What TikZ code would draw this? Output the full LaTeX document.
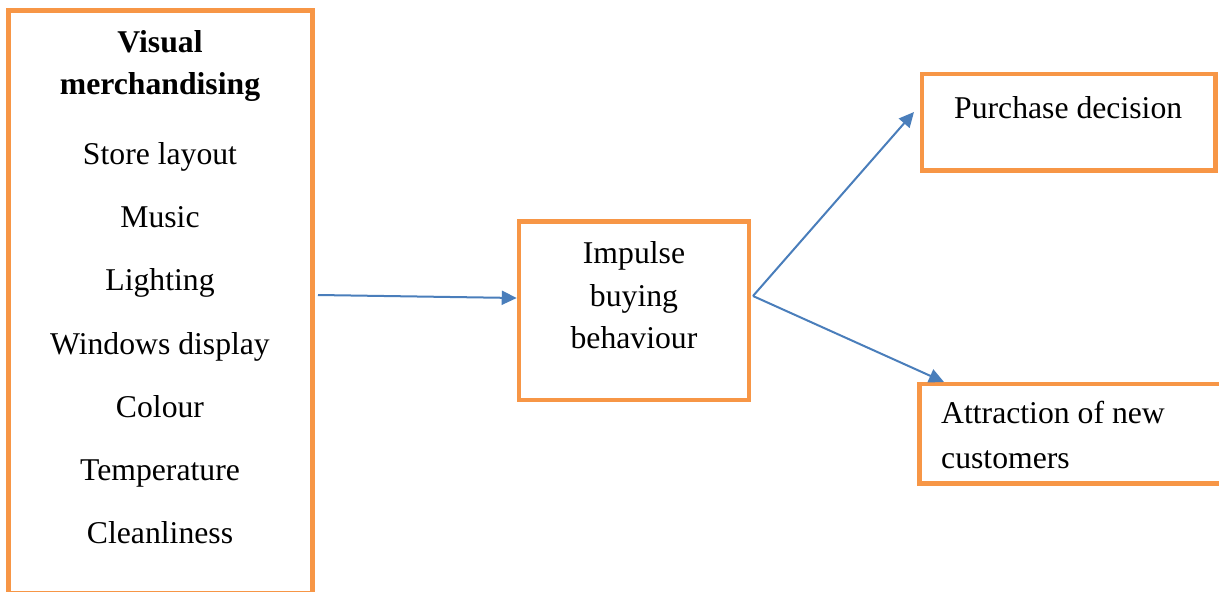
\documentclass[tikz,border=0pt]{standalone}
\usepackage{fontspec}
\setmainfont{Liberation Serif}
\usetikzlibrary{arrows.meta}
\definecolor{boxorange}{HTML}{F79646}
\definecolor{arrowblue}{HTML}{4A7EBB}
\begin{document}
\begin{tikzpicture}[x=1pt,y=-1pt,
  box/.style={draw=boxorange,line width=4.5pt,rectangle,inner sep=0pt,fill=none},
  txt/.style={anchor=base,inner sep=0pt,font=\fontsize{31.7}{42}\selectfont},
  ltxt/.style={anchor=base west,inner sep=0pt,font=\fontsize{31.7}{42}\selectfont},
  arr/.style={draw=arrowblue,line width=2pt,-{Triangle[length=15pt,width=14pt]}}]
\useasboundingbox (0,0) rectangle (1219,592);
% boxes
\node[box,minimum width=304pt,minimum height=582.5pt] (vm) at (160.5,301.75) {};
\node[box,minimum width=230pt,minimum height=178.5pt] (ib) at (634,310.75) {};
\node[box,minimum width=293.5pt,minimum height=96.5pt] (pd) at (1068.75,122.25) {};
\node[box,minimum width=303pt,minimum height=99.5pt] (an) at (1071,433.75) {};
% left box texts
\node[txt,font=\fontsize{31.7}{42}\selectfont\bfseries] (t1) at (160,52) {Visual};
\node[txt,font=\fontsize{31.7}{42}\selectfont\bfseries] (t2) at (160,94) {merchandising};
\node[txt] (t3) at (160,164) {Store layout};
\node[txt] (t4) at (160,227) {Music};
\node[txt] (t5) at (160,290) {Lighting};
\node[txt] (t6) at (160,354) {Windows display};
\node[txt] (t7) at (160,417) {Colour};
\node[txt] (t8) at (160,480) {Temperature};
\node[txt] (t9) at (160,543) {Cleanliness};
% middle box texts
\node[txt] (m1) at (634,263) {Impulse};
\node[txt] (m2) at (634,306) {buying};
\node[txt] (m3) at (634,348) {behaviour};
% right texts
\node[ltxt] (p1) at (954,118) {Purchase decision};
\node[ltxt] (a1) at (941,423) {Attraction of new};
\node[ltxt] (a2) at (941,468) {customers};
% connectors
\coordinate (start) at (318,295);
\coordinate (fork) at (753,296);
\coordinate (pdin) at (914,112);
\coordinate (anin) at (944,382);
\draw[arr] (start) -- ([yshift=12.75pt]ib.west);
\draw[arr] (fork) -- (pdin);
\draw[arr] (fork) -- (anin);
\end{tikzpicture}
\end{document}
